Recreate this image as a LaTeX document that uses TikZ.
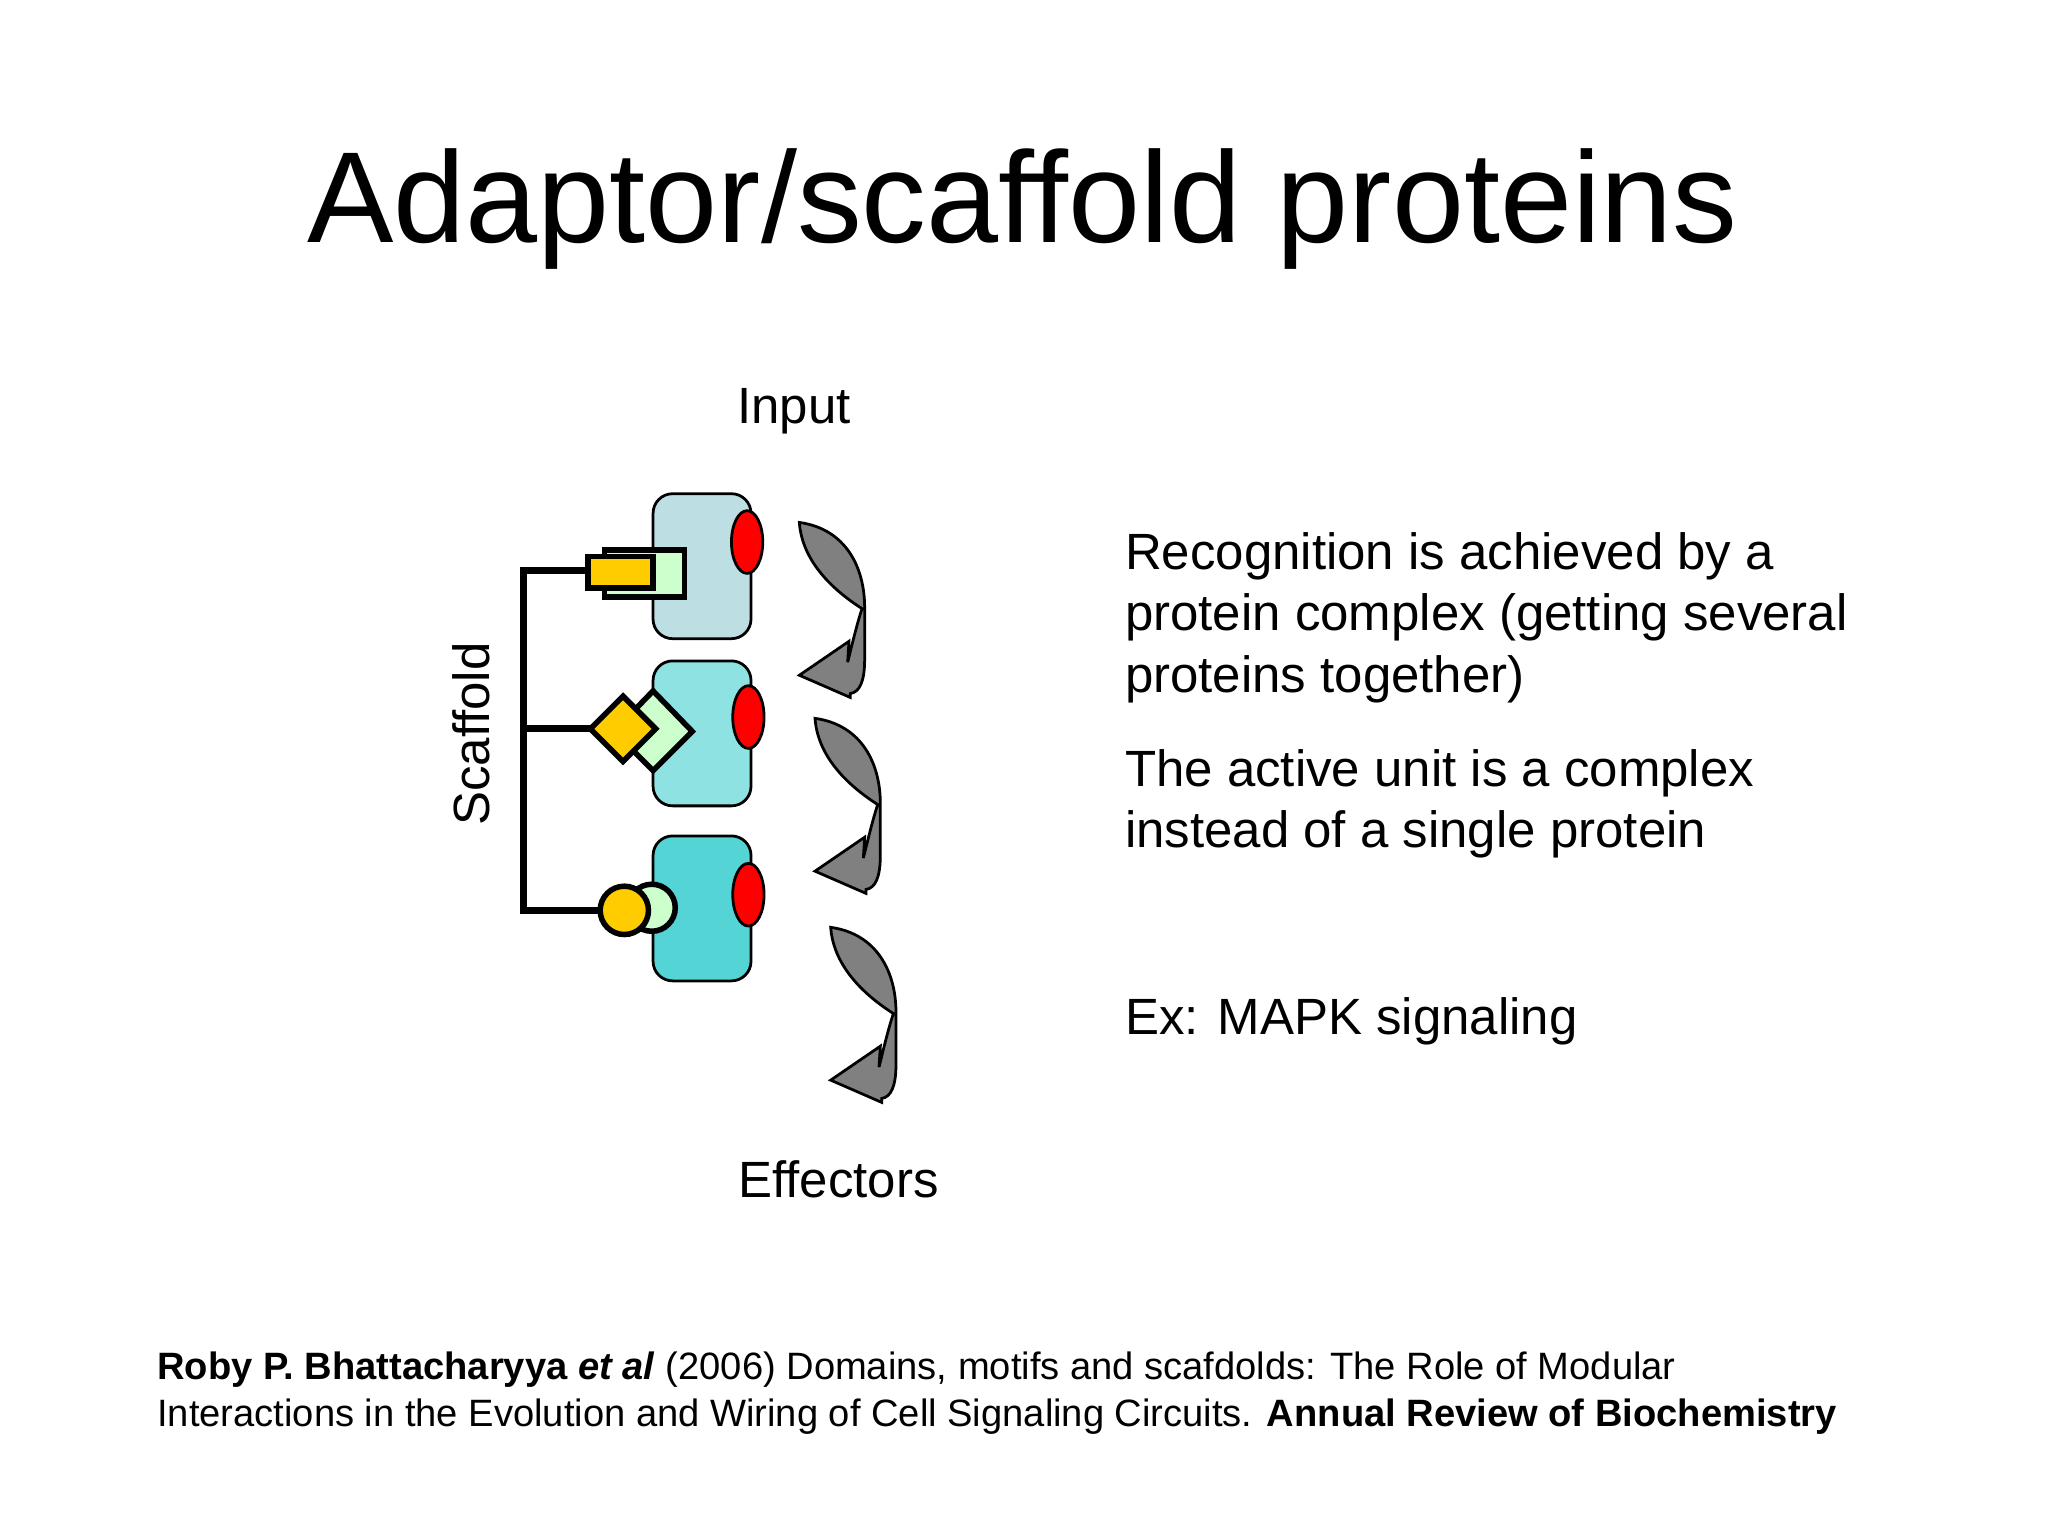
\documentclass[tikz,border=0pt]{standalone}
\usepackage{fontspec}
\setmainfont{Liberation Sans}
\begin{document}
\begin{tikzpicture}[x=0.01cm,y=-0.01cm,
  prot/.style={draw=black,line width=0.6pt,rounded corners=0.15cm},
  red/.style={draw=black,fill=red,line width=0.6pt},
  part/.style={draw=black,line width=1.2pt},
  scaf/.style={line width=1.6pt},
  garrow/.style={draw=black,fill=gray!90!white,line width=0.6pt},
  body/.style={anchor=base west,font=\fontsize{11.1}{13}\selectfont},
  lab/.style={anchor=base,font=\fontsize{11.1}{13}\selectfont}]
\definecolor{pA}{HTML}{BDDFE4}\definecolor{pB}{HTML}{8FE2E2}\definecolor{pC}{HTML}{55D4D6}
\definecolor{lg}{HTML}{CCFFCC}\definecolor{yel}{HTML}{FFCC00}\definecolor{gr}{HTML}{808080}
\useasboundingbox (0,0) rectangle (1568,1176);
\node[anchor=base,font=\fontsize{28.2}{32}\selectfont] (title) at (783,186) {Adaptor/scaffold proteins};
% proteins
\draw[prot,fill=pA] (500,378) rectangle (575,489);
\draw[prot,fill=pB] (500,506) rectangle (575,617);
\draw[prot,fill=pC] (500,640) rectangle (575,751);
\draw[red] (572,415) ellipse (12 and 24);
\draw[red] (573,549) ellipse (12 and 24);
\draw[red] (573,685) ellipse (12 and 24);
% scaffold
\draw[scaf] (450,437) -- (401,437) -- (401,697) -- (462,697);
\draw[scaf] (401,558) -- (455,558);
% top module
\draw[part,fill=lg] (463,421) rectangle (524,457);
\draw[part,fill=yel] (450,426) rectangle (500,450);
% middle module
\draw[part,fill=lg] (500,529) -- (530,560) -- (500,590) -- (470,560) -- cycle;
\draw[part,fill=yel] (477,533) -- (502,558) -- (477,583) -- (452,558) -- cycle;
% bottom module
\draw[part,fill=lg] (499,695) circle (18);
\draw[part,fill=yel] (478,697) circle (18.5);
% gray arrows
\foreach \dx/\dy in {0/0,12/150,24/310}{
\begin{scope}[shift={(\dx,\dy)}]
\draw[garrow,fill=gr] (612,400) .. controls (648,405) and (662,435) .. (662,465)
  -- (662,505) .. controls (662,522) and (658,530) .. (651,531)
  -- (651,534) -- (612,517) -- (650,491) -- (649,507)
  .. controls (652,495) and (656,478) .. (660,466)
  .. controls (635,450) and (614,428) .. (612,400) -- cycle;
\end{scope}}
% labels
\node[lab] (inp) at (608,324) {Input};
\node[lab] (eff) at (642,917) {Effectors};
\node[rotate=90,font=\fontsize{11.1}{13}\selectfont] (sc) at (361,562) {Scaffold};
\node[body] (t1) at (849,436) {Recognition is achieved by a};
\node[body] (t2) at (849,483) {protein complex (getting several};
\node[body] (t3) at (849,530) {proteins together)};
\node[body] (t4) at (849,602) {The active unit is a complex};
\node[body] (t5) at (849,649) {instead of a single protein};
\node[body] (t6) at (849,792) {Ex: MAPK signaling};
\node[anchor=base west,font=\fontsize{8.3}{10}\selectfont] (r1) at (108,1056) {\textbf{Roby P. Bhattacharyya \textit{et al}} (2006) Domains, motifs and scafdolds: The Role of Modular};
\node[anchor=base west,font=\fontsize{8.3}{10}\selectfont] (r2) at (108,1092) {Interactions in the Evolution and Wiring of Cell Signaling Circuits. \textbf{Annual Review of Biochemistry}};
\end{tikzpicture}
\end{document}
